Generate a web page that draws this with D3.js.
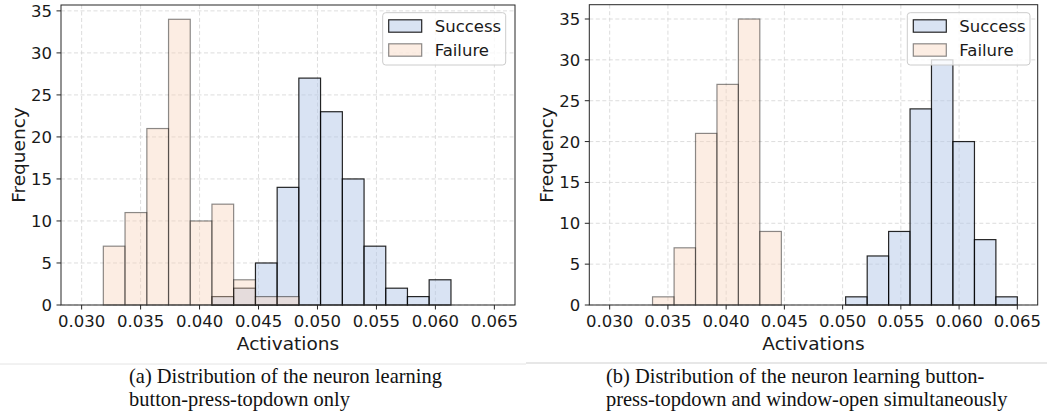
<!DOCTYPE html>
<html>
<head>
<meta charset="utf-8">
<script src="https://cdn.jsdelivr.net/npm/d3@7"></script>
<style>
  body { margin: 0; background: #fff; }
  svg { display: block; }
</style>
</head>
<body>
<span></span>
<script>
// histogram bin edges (np.linspace(0.030, 0.065, 20))
const binEdges = [0.03000, 0.03184, 0.03368, 0.03553, 0.03737, 0.03921, 0.04105, 0.04289, 0.04474, 0.04658,
                  0.04842, 0.05026, 0.05211, 0.05395, 0.05579, 0.05763, 0.05947, 0.06132, 0.06316, 0.06500];

// panel (a)
const leftSuccess = [0, 0, 0, 0, 0, 0, 1, 2, 5, 14, 27, 23, 15, 7, 2, 1, 3, 0, 0];
const leftFailure = [0, 7, 11, 21, 34, 10, 12, 3, 1, 1, 0, 0, 0, 0, 0, 0, 0, 0, 0];
// panel (b)
const rightSuccess = [0, 0, 0, 0, 0, 0, 0, 0, 0, 0, 0, 1, 6, 9, 24, 30, 20, 8, 1];
const rightFailure = [0, 0, 1, 7, 21, 27, 35, 9, 0, 0, 0, 0, 0, 0, 0, 0, 0, 0, 0];

const xTicks = [0.030, 0.035, 0.040, 0.045, 0.050, 0.055, 0.060, 0.065];
const yTicks = [0, 5, 10, 15, 20, 25, 30, 35];
const seriesNames = ["Success", "Failure"];

const captionA = ["(a) Distribution of the neuron learning", "button-press-topdown only"];
const captionB = ["(b) Distribution of the neuron learning button-", "press-topdown and window-open simultaneously"];

let width = 1047;
let height = 415;
let font = "'DejaVu Sans', sans-serif";
let tickSize = "16.5px";
let labelSize = "18.5px";

let svg = d3.select("span")
    .append("svg")
    .attr("width", width)
    .attr("height", height);

function drawPanel(p) {
    let x = d3.scaleLinear().domain([0.02825, 0.06675]).range([p.left, p.right]);
    let y = d3.scaleLinear().domain([0, p.ymax]).range([p.bottom, p.top]);
    let g = svg.append("g");

    // grid (dashed)
    g.selectAll(".gx").data(xTicks).enter().append("line")
        .attr("x1", d => x(d)).attr("x2", d => x(d))
        .attr("y1", p.top).attr("y2", p.bottom)
        .attr("stroke", "#d4d4d4").attr("stroke-width", 0.8)
        .attr("stroke-dasharray", "4,2.5");
    g.selectAll(".gy").data(yTicks).enter().append("line")
        .attr("x1", p.left).attr("x2", p.right)
        .attr("y1", d => y(d)).attr("y2", d => y(d))
        .attr("stroke", "#d4d4d4").attr("stroke-width", 0.8)
        .attr("stroke-dasharray", "4,2.5");

    function bars(counts, fill, fillOp, stroke, strokeOp) {
        let data = counts.map((c, i) => ({ c: c, x0: binEdges[i], x1: binEdges[i + 1] }))
            .filter(d => d.c > 0);
        g.append("g").selectAll("rect").data(data).enter().append("rect")
            .attr("x", d => x(d.x0))
            .attr("width", d => x(d.x1) - x(d.x0))
            .attr("y", d => y(d.c))
            .attr("height", d => y(0) - y(d.c))
            .attr("fill", fill).attr("fill-opacity", fillOp)
            .attr("stroke", stroke).attr("stroke-opacity", strokeOp)
            .attr("stroke-width", 1.2);
    }
    bars(p.success, "#b4c7e7", 0.5, "#000", 0.85);
    bars(p.failure, "#f7d3b9", 0.4, "#000", 0.45);

    // spines
    g.append("rect")
        .attr("x", p.left).attr("y", p.top)
        .attr("width", p.right - p.left).attr("height", p.bottom - p.top)
        .attr("fill", "none").attr("stroke", "#262626").attr("stroke-width", 1);

    // ticks
    g.selectAll(".tx").data(xTicks).enter().append("line")
        .attr("x1", d => x(d)).attr("x2", d => x(d))
        .attr("y1", p.bottom).attr("y2", p.bottom + 4.5)
        .attr("stroke", "#262626");
    g.selectAll(".lx").data(xTicks).enter().append("text")
        .attr("x", d => x(d)).attr("y", p.bottom + 10)
        .attr("dy", "0.71em")
        .attr("text-anchor", "middle")
        .style("font-family", font).style("font-size", tickSize).attr("fill", "#1a1a1a")
        .text(d3.format(".3f"));
    g.selectAll(".ty").data(yTicks).enter().append("line")
        .attr("x1", p.left - 4.5).attr("x2", p.left)
        .attr("y1", d => y(d)).attr("y2", d => y(d))
        .attr("stroke", "#262626");
    g.selectAll(".ly").data(yTicks).enter().append("text")
        .attr("x", p.left - 9).attr("y", d => y(d))
        .attr("dy", "0.36em")
        .attr("text-anchor", "end")
        .style("font-family", font).style("font-size", tickSize).attr("fill", "#1a1a1a")
        .text(d => d);

    // axis labels
    g.append("text")
        .attr("x", (p.left + p.right) / 2).attr("y", 350)
        .attr("text-anchor", "middle")
        .style("font-family", font).style("font-size", labelSize).attr("fill", "#1a1a1a")
        .text("Activations");
    g.append("text")
        .attr("transform", "translate(" + p.ylabelX + "," + ((p.top + p.bottom) / 2) + ") rotate(-90)")
        .attr("dy", "0.36em")
        .attr("text-anchor", "middle")
        .style("font-family", font).style("font-size", labelSize).attr("fill", "#1a1a1a")
        .text("Frequency");

    // legend
    let lg = g.append("g").attr("transform", "translate(" + p.legendX + ",12.7)");
    lg.append("rect")
        .attr("width", p.legendW).attr("height", 52.3)
        .attr("rx", 3)
        .attr("fill", "#fff").attr("fill-opacity", 0.8)
        .attr("stroke", "#cccccc");
    let styles = [
        { fill: "#b4c7e7", fo: 0.5, so: 0.85 },
        { fill: "#f7d3b9", fo: 0.4, so: 0.45 }
    ];
    seriesNames.forEach(function (name, i) {
        let cy = 13.3 + i * 24;
        lg.append("rect")
            .attr("x", 6).attr("y", cy - 6.2)
            .attr("width", 33).attr("height", 12.4)
            .attr("fill", styles[i].fill).attr("fill-opacity", styles[i].fo)
            .attr("stroke", "#000").attr("stroke-opacity", styles[i].so)
            .attr("stroke-width", 1.2);
        lg.append("text")
            .attr("x", 52).attr("y", cy)
            .attr("dy", "0.36em")
            .style("font-family", font).style("font-size", tickSize).attr("fill", "#1a1a1a")
            .text(name);
    });
}

drawPanel({ left: 61, right: 515, top: 5, bottom: 305, ymax: 35.7,
            success: leftSuccess, failure: leftFailure, legendX: 382.7, legendW: 123, ylabelX: 18 });
drawPanel({ left: 589.3, right: 1037.7, top: 4.7, bottom: 305, ymax: 36.75,
            success: rightSuccess, failure: rightFailure, legendX: 907.3, legendW: 122.7, ylabelX: 546 });

// separator lines above captions
svg.append("line").attr("x1", 0).attr("x2", 526).attr("y1", 364).attr("y2", 364)
    .attr("stroke", "#e4e4e4").attr("stroke-width", 1);
svg.append("line").attr("x1", 526).attr("x2", 1047).attr("y1", 363).attr("y2", 363)
    .attr("stroke", "#cfcfcf").attr("stroke-width", 1);

// captions (slightly condensed serif)
function caption(lines, x0) {
    let cg = svg.append("g").attr("transform", "translate(" + x0 + ",0) scale(0.93,1)");
    lines.forEach(function (t, i) {
        cg.append("text")
            .attr("x", 0).attr("y", 383 + i * 23)
            .style("font-family", "'Liberation Serif', 'Times New Roman', serif")
            .style("font-size", "22px").attr("fill", "#111")
            .text(t);
    });
}
caption(captionA, 129);
caption(captionB, 606);
</script>
</body>
</html>
